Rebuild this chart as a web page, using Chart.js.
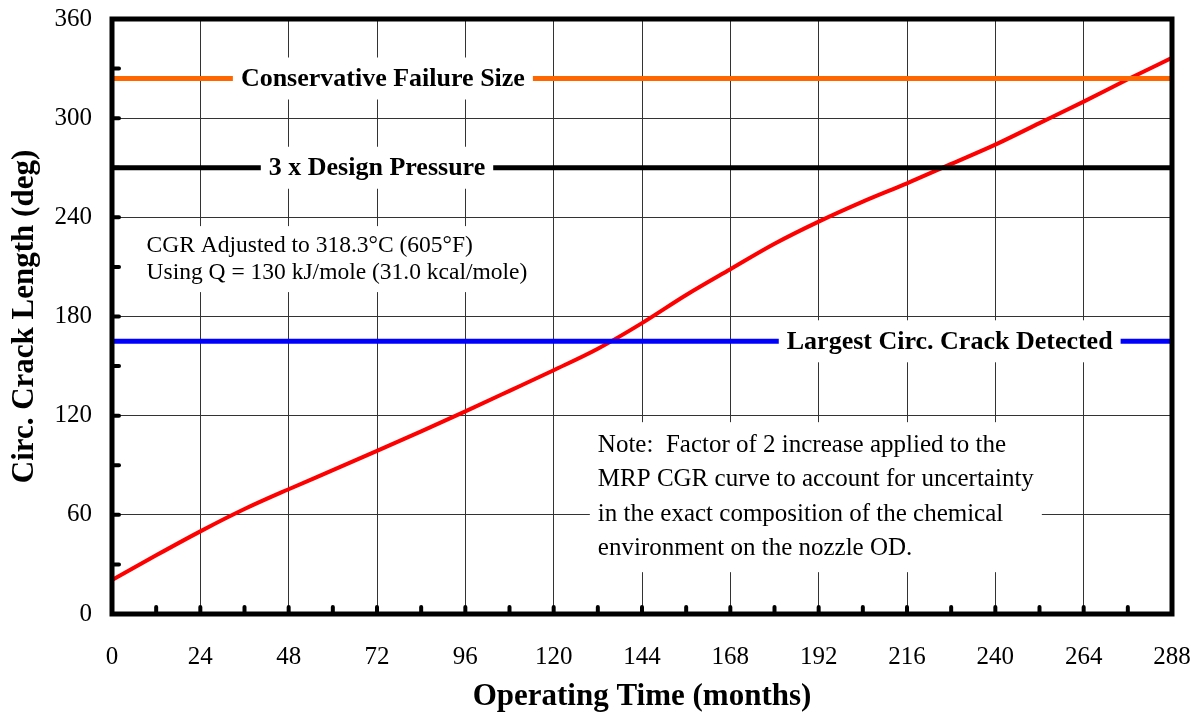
<!DOCTYPE html>
<html>
<head>
<meta charset="utf-8">
<script src="https://cdn.jsdelivr.net/npm/chart.js@4"></script>
<style>
  body { margin: 0; background: #fff; }
  #wrap { width: 1198px; height: 716px; }
</style>
</head>
<body>
<div id="wrap"><canvas id="crackChart"></canvas></div>
<script>
// data
const months = [0, 12, 24, 36, 48, 60, 72, 84, 96, 108, 120, 132, 144, 156, 168, 180, 192, 204, 216, 228, 240, 252, 264, 276, 288];
const crackLength = [20.5, 35.5, 50, 63.5, 75.5, 87, 98.7, 110.5, 122.6, 135, 147.5, 160.5, 176, 193, 208.6, 224, 237.4, 249.5, 260.6, 272.3, 284, 297, 310, 323.5, 336.5];

const failureSize = 324;
const designPressure3x = 270;
const largestCrack = 165;

const xTickValues = [0, 24, 48, 72, 96, 120, 144, 168, 192, 216, 240, 264, 288];
const yTickValues = [0, 60, 120, 180, 240, 300, 360];

const SERIF = "'Liberation Serif', 'Times New Roman', serif";

function flatLine(value) {
    return [{ x: 0, y: value }, { x: 288, y: value }];
}

// labels sitting on the horizontal lines (x = centre month, y = value)
const lineLabels = [
    { text: "Conservative Failure Size", x: 73.6, y: failureSize },
    { text: "3 x Design Pressure", x: 72, y: designPressure3x },
    { text: "Largest Circ. Crack Detected", x: 227.6, y: largestCrack }
];

// free text notes (x = left month, y = first line value)
const notes = [
    { lines: ["CGR Adjusted to 318.3\u00B0C (605\u00B0F)", "Using Q = 130 kJ/mole (31.0 kcal/mole)"], x: 9.4, y: 222.9, size: 23.5, step: 27 },
    { lines: ["Note:  Factor of 2 increase applied to the", "MRP CGR curve to account for uncertainty", "in the exact composition of the chemical", "environment on the nozzle OD."], x: 132, y: 102, size: 25, step: 34.5 }
];

const decorations = {
    id: "decorations",
    afterDatasetsDraw(chart) {
        const ctx = chart.ctx;
        const xs = chart.scales.x;
        const ys = chart.scales.y;
        const area = chart.chartArea;

        ctx.save();
        ctx.textBaseline = "middle";

        // boxed labels on the lines
        ctx.font = "bold 26px " + SERIF;
        lineLabels.forEach(l => {
            const w = ctx.measureText(l.text).width;
            const cx = xs.getPixelForValue(l.x);
            const cy = ys.getPixelForValue(l.y);
            ctx.fillStyle = "#fff";
            ctx.fillRect(cx - w / 2 - 8, cy - 21, w + 16, 42);
            ctx.fillStyle = "#000";
            ctx.textAlign = "center";
            ctx.fillText(l.text, cx, cy + 1);
        });

        // notes
        notes.forEach(n => {
            ctx.font = n.size + "px " + SERIF;
            let maxW = 0;
            n.lines.forEach(t => { maxW = Math.max(maxW, ctx.measureText(t).width); });
            const left = xs.getPixelForValue(n.x);
            const top = ys.getPixelForValue(n.y);
            ctx.fillStyle = "#fff";
            ctx.fillRect(left - 8, top - n.step / 2 - 6, maxW + 16, n.step * n.lines.length + 12);
            ctx.fillStyle = "#000";
            ctx.textAlign = "left";
            n.lines.forEach((t, i) => ctx.fillText(t, left, top + i * n.step));
        });

        // inward tick marks
        ctx.strokeStyle = "#000";
        ctx.lineWidth = 4;
        ctx.lineCap = "round";
        for (let m = 12; m < 288; m += 12) {
            const px = xs.getPixelForValue(m);
            ctx.beginPath();
            ctx.moveTo(px, area.bottom);
            ctx.lineTo(px, area.bottom - 7);
            ctx.stroke();
        }
        for (let v = 30; v < 360; v += 30) {
            const py = ys.getPixelForValue(v);
            ctx.beginPath();
            ctx.moveTo(area.left, py);
            ctx.lineTo(area.left + 7, py);
            ctx.stroke();
        }

        // heavy frame
        ctx.lineCap = "butt";
        ctx.lineWidth = 5;
        ctx.strokeRect(area.left, area.top, area.right - area.left, area.bottom - area.top);
        ctx.restore();
    }
};

function main() {
    const ctx = document.getElementById("crackChart").getContext("2d");
    new Chart(ctx, {
        type: "line",
        data: {
            datasets: [
                { data: flatLine(failureSize), borderColor: "#FF6600", borderWidth: 5, pointRadius: 0 },
                { data: flatLine(designPressure3x), borderColor: "#000000", borderWidth: 5, pointRadius: 0 },
                { data: flatLine(largestCrack), borderColor: "#0000FF", borderWidth: 5, pointRadius: 0 },
                {
                    data: months.map((m, i) => ({ x: m, y: crackLength[i] })),
                    borderColor: "#FF0000",
                    borderWidth: 4,
                    pointRadius: 0,
                    cubicInterpolationMode: "monotone"
                }
            ]
        },
        options: {
            responsive: true,
            maintainAspectRatio: false,
            animation: false,
            events: [],
            layout: { padding: { left: 0, top: 19, right: 26, bottom: 0 } },
            plugins: { legend: { display: false }, tooltip: { enabled: false } },
            scales: {
                x: {
                    type: "linear",
                    min: 0,
                    max: 288,
                    afterBuildTicks: s => { s.ticks = xTickValues.map(v => ({ value: v })); },
                    afterFit: s => { s.height = 102; s.paddingLeft = 0; s.paddingRight = 0; },
                    grid: { color: "#333", lineWidth: 1, drawTicks: false },
                    border: { display: false },
                    ticks: { color: "#000", font: { family: SERIF, size: 25 }, padding: 28, maxRotation: 0, autoSkip: false },
                    title: { display: true, text: "Operating Time (months)", color: "#000", font: { family: SERIF, size: 31, weight: "bold" }, padding: { bottom: 0 } }
                },
                y: {
                    min: 0,
                    max: 360,
                    afterBuildTicks: s => { s.ticks = yTickValues.map(v => ({ value: v })); },
                    afterFit: s => { s.width = 112; s.paddingTop = 0; s.paddingBottom = 0; },
                    grid: { color: "#333", lineWidth: 1, drawTicks: false },
                    border: { display: false },
                    ticks: { color: "#000", font: { family: SERIF, size: 25 }, padding: 20 },
                    title: { display: true, text: "Circ. Crack Length (deg)", color: "#000", font: { family: SERIF, size: 31, weight: "bold" }, padding: { top: 6 } }
                }
            }
        },
        plugins: [decorations]
    });
}

document.addEventListener("DOMContentLoaded", () => {
    main();
});
</script>
</body>
</html>
